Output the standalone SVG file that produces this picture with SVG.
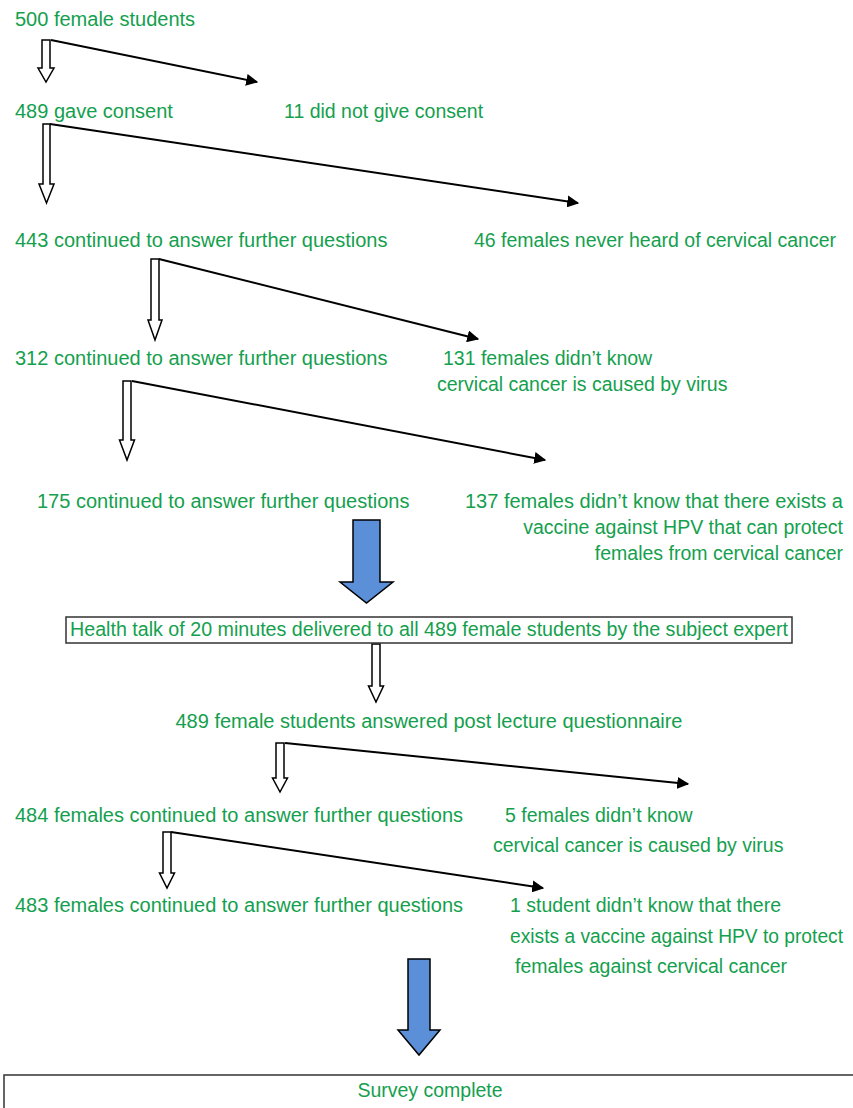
<svg xmlns="http://www.w3.org/2000/svg" width="853" height="1108" viewBox="0 0 853 1108">
<style>
  text { font-family: "Liberation Sans", Arial, sans-serif; font-size: 19.5px; fill: #14a04e; }
  .big { font-size: 20px; }
  .r { text-anchor: end; }
  .c { text-anchor: middle; }
  .hollow { fill: #ffffff; stroke: #000000; stroke-width: 1.5; stroke-linejoin: miter; }
  .blue { fill: #5b8fd8; stroke: #000000; stroke-width: 1.5; }
  .line { stroke: #000000; stroke-width: 2; fill: none; marker-end: url(#ah); }
  .box { fill: #ffffff; stroke: #333333; stroke-width: 1.5; }
</style>
<defs>
  <marker id="ah" viewBox="0 0 10 10" refX="9" refY="5" markerWidth="6" markerHeight="6" markerUnits="strokeWidth" orient="auto">
    <path d="M0,0 L10,5 L0,10 Z" fill="#000000"/>
  </marker>
</defs>
<rect width="853" height="1108" fill="#ffffff"/>

<g id="connectors">
  <path class="line" d="M51,40 L257,82"/>
  <path class="line" d="M50,124 L578,203"/>
  <path class="line" d="M159,259 L478,339"/>
  <path class="line" d="M132,381 L545,460"/>
  <path class="line" d="M285,743 L688,784"/>
  <path class="line" d="M171,832 L543,888"/>
  <!-- hollow down arrows -->
  <path class="hollow" d="M42,40 L50,40 L50,68 L54,68 L46,82 L38,68 L42,68 Z"/>
  <path class="hollow" d="M43,124 L50,124 L50,184 L54,184 L46.5,203 L39,184 L43,184 Z"/>
  <path class="hollow" d="M151,259 L159,259 L159,320 L162,320 L155,340 L148,320 L151,320 Z"/>
  <path class="hollow" d="M123,381 L131,381 L131,440 L134.5,440 L127,460 L119.5,440 L123,440 Z"/>
  <path class="hollow" d="M372,644 L380,644 L380,686 L383.5,686 L376,702 L368.5,686 L372,686 Z"/>
  <path class="hollow" d="M276,743 L284,743 L284,778 L287.5,778 L280,792 L272.5,778 L276,778 Z"/>
  <path class="hollow" d="M163,832 L171,832 L171,873 L174.5,873 L167,888 L159.5,873 L163,873 Z"/>
  <!-- blue block arrows -->
  <path class="blue" d="M353,520 L380,520 L380,582 L393,582 L366.5,603 L340,582 L353,582 Z"/>
  <path class="blue" d="M408,959 L430,959 L430,1030 L440,1030 L419,1055 L398,1030 L408,1030 Z"/>
</g>

<g id="n500"><text class="big" x="15" y="26">500 female students</text></g>
<g id="n489"><text class="big" x="15" y="118">489 gave consent</text></g>
<g id="n11"><text x="284" y="118">11 did not give consent</text></g>
<g id="n443"><text class="big" x="15" y="247">443 continued to answer further questions</text></g>
<g id="n46"><text x="474" y="247">46 females never heard of cervical cancer</text></g>
<g id="n312"><text class="big" x="15" y="365">312 continued to answer further questions</text></g>
<g id="n131"><text x="443" y="365">131 females didn’t know</text><text x="437" y="391">cervical cancer is caused by virus</text></g>
<g id="n175"><text class="big" x="37" y="508">175 continued to answer further questions</text></g>
<g id="n137"><text class="r big" x="843" y="508">137 females didn’t know that there exists a</text><text class="r" x="843" y="534">vaccine against HPV that can protect</text><text class="r" x="843" y="560">females from cervical cancer</text></g>
<g id="talk"><rect class="box" x="66" y="617" width="726" height="26"/><text class="c" x="429" y="636" textLength="718" lengthAdjust="spacingAndGlyphs">Health talk of 20 minutes delivered to all 489 female students by the subject expert</text></g>
<g id="post"><text class="c big" x="429" y="728">489 female students answered post lecture questionnaire</text></g>
<g id="n484"><text class="big" x="15" y="822">484 females continued to answer further questions</text></g>
<g id="n5"><text x="505" y="822">5 females didn’t know</text><text x="493" y="852">cervical cancer is caused by virus</text></g>
<g id="n483"><text class="big" x="15" y="912">483 females continued to answer further questions</text></g>
<g id="n1"><text x="510" y="912">1 student didn’t know that there</text><text x="510" y="943" textLength="333" lengthAdjust="spacingAndGlyphs">exists a vaccine against HPV to protect</text><text x="515" y="973">females against cervical cancer</text></g>
<g id="survey"><rect class="box" x="4" y="1075" width="860" height="50"/><text class="c" x="430" y="1097">Survey complete</text></g>
</svg>
